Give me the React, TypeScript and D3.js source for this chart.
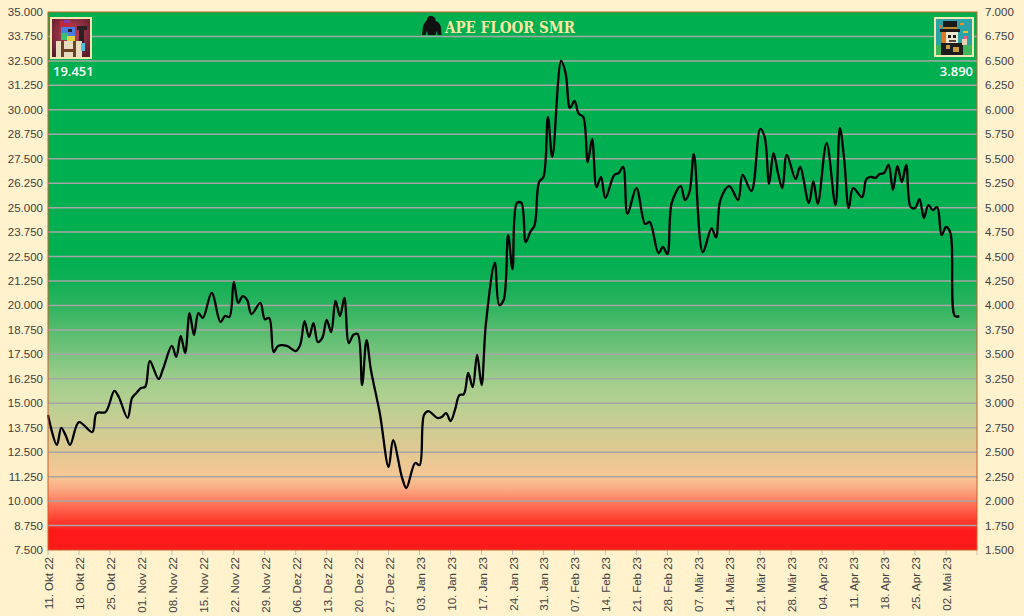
import React from 'react';
import * as d3 from 'd3';

// daily floor prices (left axis units)
const dates = [
  '2022-10-11', '2022-10-13', '2022-10-14', '2022-10-15', '2022-10-16', '2022-10-18', '2022-10-21', '2022-10-22',
  '2022-10-24', '2022-10-26', '2022-10-27', '2022-10-29', '2022-10-30', '2022-10-31', '2022-11-01', '2022-11-02',
  '2022-11-03', '2022-11-05', '2022-11-06', '2022-11-08', '2022-11-09', '2022-11-10', '2022-11-11', '2022-11-12',
  '2022-11-13', '2022-11-14', '2022-11-15', '2022-11-17', '2022-11-19', '2022-11-20', '2022-11-21', '2022-11-22',
  '2022-11-23', '2022-11-24', '2022-11-25', '2022-11-26', '2022-11-28', '2022-11-29', '2022-11-30', '2022-12-01',
  '2022-12-02', '2022-12-04', '2022-12-06', '2022-12-07', '2022-12-08', '2022-12-09', '2022-12-10', '2022-12-11',
  '2022-12-12', '2022-12-13', '2022-12-14', '2022-12-15', '2022-12-16', '2022-12-17', '2022-12-18', '2022-12-19',
  '2022-12-20', '2022-12-21', '2022-12-22', '2022-12-23', '2022-12-25', '2022-12-27', '2022-12-28', '2022-12-30',
  '2022-12-31', '2023-01-02', '2023-01-03', '2023-01-04', '2023-01-05', '2023-01-07', '2023-01-08', '2023-01-09',
  '2023-01-10', '2023-01-11', '2023-01-12', '2023-01-13', '2023-01-14', '2023-01-15', '2023-01-16', '2023-01-17',
  '2023-01-18', '2023-01-20', '2023-01-21', '2023-01-22', '2023-01-23', '2023-01-24', '2023-01-25', '2023-01-26',
  '2023-01-27', '2023-01-28', '2023-01-29', '2023-01-30', '2023-01-31', '2023-02-01', '2023-02-02', '2023-02-04',
  '2023-02-05', '2023-02-06', '2023-02-07', '2023-02-08', '2023-02-09', '2023-02-10', '2023-02-11', '2023-02-12',
  '2023-02-13', '2023-02-14', '2023-02-16', '2023-02-17', '2023-02-18', '2023-02-19', '2023-02-21', '2023-02-23',
  '2023-02-24', '2023-02-26', '2023-02-27', '2023-02-28', '2023-03-01', '2023-03-03', '2023-03-04', '2023-03-05',
  '2023-03-06', '2023-03-08', '2023-03-10', '2023-03-11', '2023-03-12', '2023-03-14', '2023-03-16', '2023-03-17',
  '2023-03-19', '2023-03-21', '2023-03-22', '2023-03-23', '2023-03-24', '2023-03-25', '2023-03-26', '2023-03-27',
  '2023-03-29', '2023-03-30', '2023-04-01', '2023-04-02', '2023-04-03', '2023-04-05', '2023-04-07', '2023-04-08',
  '2023-04-09', '2023-04-10', '2023-04-11', '2023-04-13', '2023-04-14', '2023-04-15', '2023-04-16', '2023-04-17',
  '2023-04-18', '2023-04-19', '2023-04-20', '2023-04-21', '2023-04-22', '2023-04-23', '2023-04-24', '2023-04-25',
  '2023-04-26', '2023-04-27', '2023-04-28', '2023-04-29', '2023-04-30', '2023-05-01', '2023-05-02', '2023-05-03',
  '2023-05-04', '2023-05-05',
];

const floor = [
  14.4, 12.87, 13.74, 13.35, 12.87, 14.04, 13.53, 14.5,
  14.55, 15.63, 15.32, 14.25, 15.27, 15.53, 15.78, 15.85,
  17.16, 16.24, 16.75, 17.93, 17.37, 18.44, 17.57, 19.61,
  18.49, 19.61, 19.36, 20.64, 19.15, 19.46, 19.41, 21.2,
  20.13, 20.48, 20.28, 19.56, 20.13, 19.3, 19.36, 17.62,
  17.93, 17.93, 17.67, 17.98, 19.2, 18.39, 19.1, 18.13,
  18.34, 19.26, 18.64, 20.23, 19.46, 20.38, 18.08, 18.49,
  18.54, 15.93, 18.23, 16.7, 14.5, 11.74, 13.12, 11.23,
  10.67, 11.95, 11.84, 14.4, 14.6, 14.25, 14.3, 14.5,
  14.09, 14.66, 15.42, 15.47, 16.55, 15.83, 17.47, 15.93,
  19.1, 22.17, 20.02, 20.28, 23.6, 21.86, 25.24, 25.24,
  23.24, 23.75, 24.11, 26.31, 26.57, 29.63, 27.59, 32.5,
  31.88, 30.09, 30.45, 29.79, 29.63, 27.33, 28.51, 26.05,
  26.57, 25.49, 26.67, 26.77, 27.08, 24.68, 26.0, 24.16,
  24.27, 22.68, 22.99, 22.63, 25.24, 26.1, 25.39, 25.8,
  27.74, 22.73, 23.94, 23.48, 25.4, 26.1, 25.39, 26.67,
  25.85, 29.02, 28.61, 26.21, 27.79, 26.77, 26.0, 27.69,
  26.46, 27.08, 25.24, 26.36, 25.19, 28.3, 25.13, 29.07,
  27.43, 24.98, 26.0, 25.54, 26.46, 26.57, 26.52, 26.72,
  26.77, 27.18, 25.9, 27.13, 26.31, 27.18, 25.03, 24.98,
  25.44, 24.47, 25.13, 24.88, 25.03, 23.6, 24.01, 23.7,
  19.46, 19.45,
];

const title = 'APE FLOOR SMR';
const leftValue = '19.451';
const rightValue = '3.890';

const leftDomain = [7.5, 35];
const rightDomain = [1.5, 7];
const leftStep = 1.25;
const rightStep = 0.25;

const firstTick = '2022-10-11';
const lastTick = '2023-05-02';
const axisEnd = '2023-05-09';

// background colour bands, by left-axis value
const bandValues = [35, 22.5, 21.25, 20, 18.75, 17.5, 16.25, 15, 13.75, 12.5, 11.25, 10.6, 10, 8.75, 8.5, 7.5];
const bandColors = ['#00b050', '#00b050', '#10b055', '#2db35f', '#55bc6e', '#78c47e', '#9ecd8b', '#b6d091',
  '#cdcd93', '#e2c892', '#f6c795', '#fca882', '#ff7d5e', '#ff2c22', '#ff1a1a', '#ff1a1a'];

const de = d3.timeFormatLocale({
  dateTime: '%A, der %e. %B %Y, %X',
  date: '%d.%m.%Y',
  time: '%H:%M:%S',
  periods: ['AM', 'PM'],
  days: ['Sonntag', 'Montag', 'Dienstag', 'Mittwoch', 'Donnerstag', 'Freitag', 'Samstag'],
  shortDays: ['So', 'Mo', 'Di', 'Mi', 'Do', 'Fr', 'Sa'],
  months: ['Januar', 'Februar', 'März', 'April', 'Mai', 'Juni', 'Juli', 'August', 'September', 'Oktober', 'November', 'Dezember'],
  shortMonths: ['Jan', 'Feb', 'Mär', 'Apr', 'Mai', 'Jun', 'Jul', 'Aug', 'Sep', 'Okt', 'Nov', 'Dez'],
});

const W = 1024;
const H = 616;
const m = { left: 48, right: 977, top: 12, bottom: 550 };
const font = '"Liberation Sans", Arial, sans-serif';
const textColor = '#404040';

const parse = d3.utcParse('%Y-%m-%d');

const Gorilla = ({ x, y }: { x: number; y: number }) => (
  <path
    transform={`translate(${x},${y})`}
    fill="#111"
    d="M5,5 C5,1 9,0 11,1.5 C13,2 14,4 13.5,6 C17,7 19,10 19,14 L19.5,20 L15.5,20 L15,15.5 L13.5,20 L6,20 L5,16 L3.5,20 L0,20 L1,12 C1.5,9 3,7 5,5 Z"
  />
);

const LeftAvatar = ({ x, y, s }: { x: number; y: number; s: number }) => (
  <g transform={`translate(${x},${y})`}>
    <defs>
      <radialGradient id="avL" cx="0.5" cy="0.4" r="0.7">
        <stop offset="0" stopColor="#c4465c" />
        <stop offset="1" stopColor="#5b1b2b" />
      </radialGradient>
    </defs>
    <rect width={s} height={s} fill="#f4e7b3" />
    <rect x={2} y={2} width={s - 4} height={s - 4} fill="url(#avL)" />
    <rect x={10} y={4} width={12} height={6} fill="#c0283c" />
    <rect x={14} y={3} width={6} height={3} fill="#7a3fb0" />
    <rect x={11} y={10} width={14} height={13} fill="#4a7ee0" />
    <rect x={11} y={16} width={7} height={7} fill="#38c070" />
    <rect x={17} y={19} width={8} height={5} fill="#e0d040" />
    <rect x={18} y={12} width={4} height={3} fill="#222" />
    <rect x={27} y={9} width={10} height={4} fill="#2a2022" />
    <rect x={29} y={12} width={5} height={15} fill="#2a2022" />
    <rect x={6} y={24} width={26} height={s - 26} fill="#e8dcc0" />
    <rect x={11} y={24} width={3} height={s - 26} fill="#6b4222" />
    <rect x={23} y={24} width={3} height={s - 26} fill="#6b4222" />
    <rect x={11} y={32} width={15} height={3} fill="#6b4222" />
    <rect x={31} y={26} width={4} height={8} fill="#50c0e0" />
  </g>
);

const RightAvatar = ({ x, y, s }: { x: number; y: number; s: number }) => (
  <g transform={`translate(${x},${y})`}>
    <rect width={s} height={s} fill="#f4e7b3" />
    <rect x={2} y={2} width={s - 4} height={s - 4} fill="#2aa3a6" />
    <rect x={2} y={s - 12} width={s - 4} height={10} fill="#3fb55a" />
    <rect x={26} y={6} width={4} height={2} fill="#ff8a20" />
    <rect x={29} y={14} width={5} height={2} fill="#e8c020" />
    <rect x={5} y={8} width={3} height={3} fill="#f06a30" />
    <rect x={9} y={4} width={14} height={9} fill="#1b1b1b" />
    <rect x={6} y={12} width={20} height={3} fill="#1b1b1b" />
    <rect x={9} y={10} width={14} height={2} fill="#c08a30" />
    <rect x={8} y={15} width={6} height={12} fill="#e07a20" />
    <rect x={12} y={15} width={12} height={11} fill="#efe6cf" />
    <rect x={14} y={18} width={3} height={3} fill="#1b1b1b" />
    <rect x={19} y={18} width={3} height={3} fill="#1b1b1b" />
    <rect x={15} y={23} width={7} height={2} fill="#5a4a3a" />
    <rect x={7} y={26} width={22} height={s - 28} fill="#1d1d1d" />
    <rect x={12} y={28} width={4} height={4} fill="#c7a040" />
    <rect x={19} y={30} width={6} height={5} fill="#c7a040" />
    <rect x={28} y={22} width={5} height={6} fill="#e8d0b0" />
    <rect x={30} y={19} width={3} height={3} fill="#f05a8a" />
  </g>
);

export default function App() {
  const data = dates.map((d, i) => ({ date: parse(d) as Date, value: floor[i] }));

  const x = d3.scaleUtc()
    .domain([parse(firstTick) as Date, parse(axisEnd) as Date])
    .range([m.left, m.right]);
  const y = d3.scaleLinear().domain(leftDomain).range([m.bottom, m.top]);
  const y2 = d3.scaleLinear().domain(rightDomain).range([m.bottom, m.top]);

  const leftTicks = d3.range(leftDomain[0], leftDomain[1] + 0.001, leftStep);
  const rightTicks = d3.range(rightDomain[0], rightDomain[1] + 0.001, rightStep);
  const fmt3 = d3.format('.3f');

  const start = parse(firstTick) as Date;
  const nWeeks = d3.utcDay.count(start, parse(lastTick) as Date) / 7;
  const xTicks = d3.range(0, nWeeks + 1).map(i => d3.utcDay.offset(start, i * 7));
  const xFmt = de.utcFormat('%d. %b %y');

  const line = d3.line<{ date: Date; value: number }>()
    .x(d => x(d.date))
    .y(d => y(d.value))
    .curve(d3.curveCatmullRom.alpha(0.5));

  const plotH = m.bottom - m.top;

  return (
    <svg width={W} height={H} style={{ position: 'absolute', left: 0, top: 0 }} fontFamily={font}>
      <defs>
        <linearGradient id="bg" gradientUnits="userSpaceOnUse" x1={0} y1={m.top} x2={0} y2={m.bottom}>
          {bandValues.map((v, i) => (
            <stop key={i} offset={(y(v) - m.top) / plotH} stopColor={bandColors[i]} />
          ))}
        </linearGradient>
      </defs>
      <rect width={W} height={H} fill="#fff2cc" />
      <rect x={m.left} y={m.top} width={m.right - m.left} height={plotH} fill="url(#bg)" />

      {leftTicks.slice(1, -1).map(t => (
        <line key={t} x1={m.left} x2={m.right} y1={y(t)} y2={y(t)} stroke="#a6a6a6" strokeWidth={1.5} />
      ))}

      {xTicks.map((t, i) => (
        <line key={i} x1={x(t)} x2={x(t)} y1={m.bottom} y2={m.bottom + 5} stroke="#bfbfbf" />
      ))}
      <line x1={m.right} x2={m.right} y1={m.bottom} y2={m.bottom + 5} stroke="#bfbfbf" />

      <path d={line(data) || ''} fill="none" stroke="#000" strokeWidth={2.3} strokeLinejoin="round" />

      <rect x={m.left} y={m.top} width={m.right - m.left} height={plotH} fill="none" stroke="#c9602a" strokeWidth={1} />

      {leftTicks.map(t => (
        <text key={t} x={43} y={y(t)} dy="0.35em" textAnchor="end" fontSize={11.5} fill={textColor}>
          {fmt3(t)}
        </text>
      ))}
      {rightTicks.map(t => (
        <text key={t} x={985} y={y2(t)} dy="0.35em" textAnchor="start" fontSize={11.5} fill={textColor}>
          {fmt3(t)}
        </text>
      ))}

      {xTicks.map((t, i) => (
        <text
          key={i}
          transform={`translate(${x(t) + 1},${m.bottom + 7}) rotate(-90)`}
          dy="0.35em"
          textAnchor="end"
          fontSize={11.5}
          fill={textColor}
        >
          {xFmt(t)}
        </text>
      ))}

      <Gorilla x={422} y={15} />
      <text
        x={445}
        y={33}
        fontFamily='"DejaVu Serif", serif'
        fontWeight="bold"
        fontSize={16}
        fill="#fbe6a2"
        textLength={130}
        lengthAdjust="spacingAndGlyphs"
      >
        {title}
      </text>

      <LeftAvatar x={50} y={17} s={42} />
      <RightAvatar x={934} y={17} s={40} />

      <text x={53} y={76} fontSize={13} fontWeight={600} fill="#fff" fontFamily='"Open Sans", sans-serif'>
        {leftValue}
      </text>
      <text x={973} y={76} fontSize={13} fontWeight={600} fill="#fff" textAnchor="end" fontFamily='"Open Sans", sans-serif'>
        {rightValue}
      </text>
    </svg>
  );
}
